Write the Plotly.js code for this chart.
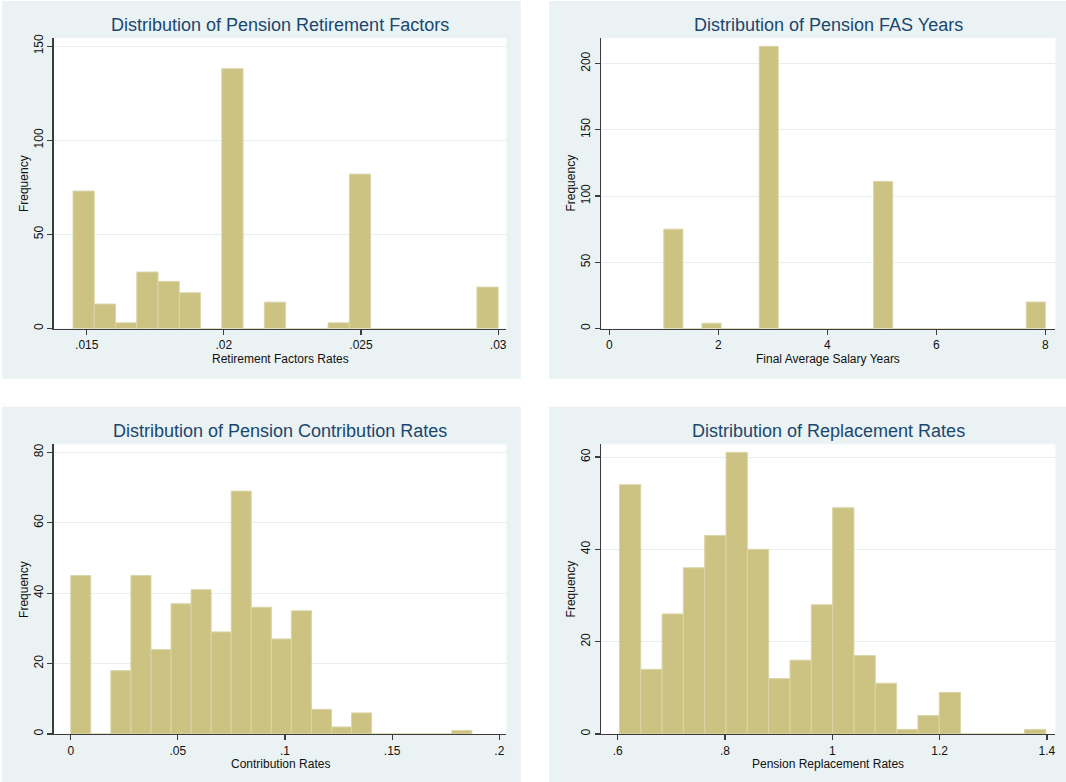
<!DOCTYPE html>
<html>
<head>
<meta charset="utf-8">
<script src="https://cdn.plot.ly/plotly-3.0.1.min.js"></script>
<style>
  html, body { margin: 0; padding: 0; background: #ffffff; }
  #chart { width: 1066px; height: 782px; }
</style>
</head>
<body>
<div id="chart"></div>
<script>
// ---------------- DATA ----------------
// Panel 1: Retirement factor rates (20 bins)
const rfBinMin = 0.0145;
const rfBinWidth = 0.000775;
const rfCounts = [73, 13, 3, 30, 25, 19, 0, 138, 0, 14, 0, 0, 3, 82, 0, 0, 0, 0, 0, 22];
const rfXTicks = [0.015, 0.02, 0.025, 0.03];
const rfXTickText = ['.015', '.02', '.025', '.03'];
const rfYTicks = [0, 50, 100, 150];

// Panel 2: Final average salary years (20 bins)
const fasBinMin = 1;
const fasBinWidth = 0.35;
const fasCounts = [75, 0, 4, 0, 0, 213, 0, 0, 0, 0, 0, 111, 0, 0, 0, 0, 0, 0, 0, 20];
const fasXTicks = [0, 2, 4, 6, 8];
const fasXTickText = ['0', '2', '4', '6', '8'];
const fasYTicks = [0, 50, 100, 150, 200];

// Panel 3: Contribution rates (20 bins)
const crBinMin = 0;
const crBinWidth = 0.00936;
const crCounts = [45, 0, 18, 45, 24, 37, 41, 29, 69, 36, 27, 35, 7, 2, 6, 0, 0, 0, 0, 1];
const crXTicks = [0, 0.05, 0.1, 0.15, 0.2];
const crXTickText = ['0', '.05', '.1', '.15', '.2'];
const crYTicks = [0, 20, 40, 60, 80];

// Panel 4: Replacement rates (20 bins)
const rrBinMin = 0.6032;
const rrBinWidth = 0.03974;
const rrCounts = [54, 14, 26, 36, 43, 61, 40, 12, 16, 28, 49, 17, 11, 1, 4, 9, 0, 0, 0, 1];
const rrXTicks = [0.6, 0.8, 1, 1.2, 1.4];
const rrXTickText = ['.6', '.8', '1', '1.2', '1.4'];
const rrYTicks = [0, 20, 40, 60];

const titles = [
  'Distribution of Pension Retirement Factors',
  'Distribution of Pension FAS Years',
  'Distribution of Pension Contribution Rates',
  'Distribution of Replacement Rates'
];
const xTitles = [
  'Retirement Factors Rates',
  'Final Average Salary Years',
  'Contribution Rates',
  'Pension Replacement Rates'
];
const yTitle = 'Frequency';

// ---------------- LAYOUT / STYLE ----------------
const W = 1066, H = 782;
const FONT = 'Liberation Sans, Arial, Helvetica, sans-serif';
const BAR_FILL = '#CCC383';
const BAR_LINE = '#DAD5A9';
const PANEL_BG = '#EAF2F3';
const TITLE_COLOR = '#1A476F';
const AXIS_COLOR = '#3c3c3c';
const GRID_COLOR = '#E6EEF0';

const px = v => v / W;
const py = v => 1 - v / H;

// plot-area pixel boxes and axis ranges
const panels = [
  {L: 53.8, R: 506.4, T: 38, B: 328.5, xr: [0.0138, 0.0303], yr: [0, 154.3],
   bg: [2, 520.7, 1, 378.7],
   binMin: rfBinMin, binW: rfBinWidth, counts: rfCounts,
   xt: rfXTicks, xtt: rfXTickText, yt: rfYTicks},
  {L: 601.3, R: 1055.4, T: 38, B: 328.5, xr: [-0.147, 8.185], yr: [0, 219.3],
   bg: [549.3, 1066, 1, 378.7],
   binMin: fasBinMin, binW: fasBinWidth, counts: fasCounts,
   xt: fasXTicks, xtt: fasXTickText, yt: fasYTicks},
  {L: 53.8, R: 506.4, T: 444.3, B: 734, xr: [-0.0079, 0.2033], yr: [0, 82.3],
   bg: [2, 520.7, 406.7, 782],
   binMin: crBinMin, binW: crBinWidth, counts: crCounts,
   xt: crXTicks, xtt: crXTickText, yt: crYTicks},
  {L: 601.3, R: 1055.4, T: 444.3, B: 734, xr: [0.5694, 1.4158], yr: [0, 62.75],
   bg: [549.3, 1066, 406.7, 782],
   binMin: rrBinMin, binW: rrBinWidth, counts: rrCounts,
   xt: rrXTicks, xtt: rrXTickText, yt: rrYTicks}
];

const traces = [];
const layout = {
  width: W, height: H,
  margin: {l: 0, r: 0, t: 0, b: 0, pad: 0},
  paper_bgcolor: '#ffffff',
  plot_bgcolor: 'rgba(0,0,0,0)',
  showlegend: false,
  font: {family: FONT, size: 12, color: '#000000'},
  shapes: [],
  annotations: [],
  bargap: 0
};

panels.forEach((p, i) => {
  const n = i + 1;
  const xa = 'xaxis' + (n === 1 ? '' : n);
  const ya = 'yaxis' + (n === 1 ? '' : n);
  const xref = 'x' + (n === 1 ? '' : n);
  const yref = 'y' + (n === 1 ? '' : n);

  const lefts = p.counts.map((c, k) => p.binMin + k * p.binW);
  traces.push({
    type: 'bar',
    x: lefts,
    y: p.counts,
    width: p.binW,
    offset: 0,
    xaxis: xref, yaxis: yref,
    marker: {color: BAR_FILL, line: {color: BAR_LINE, width: 1}},
    hoverinfo: 'x+y'
  });

  layout[xa] = {
    domain: [px(p.L), px(p.R)],
    range: p.xr,
    anchor: yref,
    tickmode: 'array', tickvals: p.xt, ticktext: p.xtt,
    ticks: 'outside', ticklen: 5, tickwidth: 1.2, tickcolor: AXIS_COLOR,
    showline: true, linecolor: AXIS_COLOR, linewidth: 1.4,
    showgrid: false, zeroline: false,
    tickfont: {family: FONT, size: 12, color: '#111111'},
    fixedrange: true
  };
  layout[ya] = {
    domain: [py(p.B), py(p.T)],
    range: p.yr,
    anchor: xref,
    tickmode: 'array', tickvals: p.yt,
    tickangle: -90,
    ticks: 'outside', ticklen: 5, tickwidth: 1.2, tickcolor: AXIS_COLOR,
    showline: true, linecolor: AXIS_COLOR, linewidth: 1.4,
    showgrid: true, gridcolor: GRID_COLOR, gridwidth: 1,
    zeroline: false,
    tickfont: {family: FONT, size: 12, color: '#111111'},
    fixedrange: true
  };

  // panel background
  layout.shapes.push({
    type: 'rect', xref: 'paper', yref: 'paper', layer: 'below',
    x0: px(p.bg[0]), x1: px(p.bg[1]), y0: py(p.bg[3]), y1: py(p.bg[2]),
    fillcolor: PANEL_BG, line: {width: 0}
  });
  // white plot region
  layout.shapes.push({
    type: 'rect', xref: 'paper', yref: 'paper', layer: 'below',
    x0: px(p.L), x1: px(p.R), y0: py(p.B), y1: py(p.T),
    fillcolor: '#ffffff', line: {width: 0}
  });

  const cx = (p.L + p.R) / 2;
  // main title
  layout.annotations.push({
    text: titles[i], xref: 'paper', yref: 'paper',
    x: px(cx), y: py(p.T - 13), xanchor: 'center', yanchor: 'middle',
    showarrow: false, font: {family: FONT, size: 18, color: TITLE_COLOR}
  });
  // x axis title
  layout.annotations.push({
    text: xTitles[i], xref: 'paper', yref: 'paper',
    x: px(cx), y: py(p.B + 30), xanchor: 'center', yanchor: 'middle',
    showarrow: false, font: {family: FONT, size: 12, color: '#111111'}
  });
  // y axis title
  layout.annotations.push({
    text: yTitle, xref: 'paper', yref: 'paper',
    x: px(p.L - 30), y: py((p.T + p.B) / 2), xanchor: 'center', yanchor: 'middle',
    textangle: -90,
    showarrow: false, font: {family: FONT, size: 12, color: '#111111'}
  });
});

Plotly.newPlot('chart', traces, layout, {displayModeBar: false, staticPlot: true});
</script>
</body>
</html>
